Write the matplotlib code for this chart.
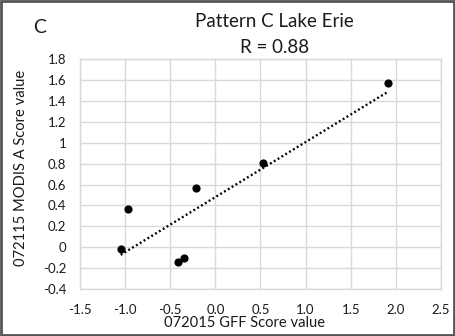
import numpy as np
import matplotlib.pyplot as plt
from matplotlib.patches import Rectangle

plt.rcParams['font.family'] = ['Lato', 'DejaVu Sans']

# GFF score (x) vs MODIS A score (y)
gff_score = [-1.05, -0.97, -0.42, -0.35, -0.22, 0.53, 1.91]
modis_score = [-0.02, 0.37, -0.14, -0.10, 0.57, 0.81, 1.57]

x_ticks = [-1.5, -1.0, -0.5, 0.0, 0.5, 1.0, 1.5, 2.0, 2.5]
y_ticks = [-0.4, -0.2, 0, 0.2, 0.4, 0.6, 0.8, 1, 1.2, 1.4, 1.6, 1.8]
y_tick_labels = ["-0.4", "-0.2", "0", "0.2", "0.4", "0.6", "0.8", "1",
                 "1.2", "1.4", "1.6", "1.8"]

fig = plt.figure(figsize=(4.55, 3.36), dpi=100)
ax = fig.add_axes([0.176, 0.140, 0.793, 0.6835])

ax.scatter(gff_score, modis_score, s=24, color="black", zorder=4)

# linear trendline over the data range
slope, intercept = np.polyfit(gff_score, modis_score, 1)
xt = np.array([min(gff_score), max(gff_score)])
ax.plot(xt, slope * xt + intercept, color="black", lw=1.7,
        ls=(0, (0.8, 1.1)), zorder=3)

ax.set_xlim(-1.5, 2.5)
ax.set_ylim(-0.4, 1.8)
ax.set_xticks(x_ticks)
ax.set_xticklabels([f"{v:.1f}" for v in x_ticks])
ax.set_yticks(y_ticks)
ax.set_yticklabels(y_tick_labels)
ax.tick_params(length=0, labelsize=9.5, colors="#1a1a1a")
ax.tick_params(axis="x", pad=11)
ax.tick_params(axis="y", pad=10)
ax.grid(True, color="#d9d9d9", lw=1.0)
ax.set_axisbelow(True)
for s in ax.spines.values():
    s.set_color("#d9d9d9")
    s.set_linewidth(1.0)

fig.text(0.538, 0.040, "072015 GFF Score value", ha="center", va="center",
         fontsize=10.6, color="#1a1a1a")
fig.text(0.046, 0.50, "072115 MODIS A Score value", ha="center", va="center",
         rotation=90, fontsize=10.6, color="#1a1a1a")

fig.text(0.604, 0.935, "Pattern C Lake Erie", ha="center", va="center",
         fontsize=13.5, color="#1a1a1a")
fig.text(0.604, 0.860, "R = 0.88", ha="center", va="center",
         fontsize=13.5, color="#1a1a1a")
fig.text(0.088, 0.918, "C", ha="center", va="center", fontsize=14,
         color="#1a1a1a")

# outer frame
fig.patches.append(Rectangle((0.003, 0.004), 0.994, 0.992,
                             transform=fig.transFigure, fill=False,
                             edgecolor="#555555", lw=2))

fig.savefig("out.png", dpi=100)
